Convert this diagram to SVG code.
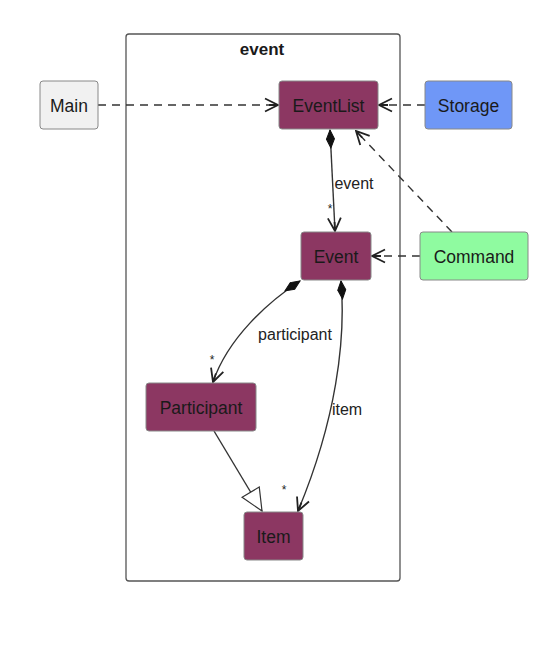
<svg xmlns="http://www.w3.org/2000/svg" width="560" height="656" viewBox="0 0 560 656">
<defs>
<style>
.node rect{stroke:#888;stroke-width:1}
.lbl{font-family:"Liberation Sans",Arial,sans-serif;font-size:17.5px;fill:#1a1a1a;text-anchor:middle;dominant-baseline:central}
.elbl{font-family:"Liberation Sans",Arial,sans-serif;font-size:16px;fill:#222;text-anchor:middle;dominant-baseline:central}
.edge{fill:none;stroke:#333;stroke-width:1.4}
.dash{stroke-dasharray:8 6}
.cls rect{fill:#8c3762}
</style>
<marker id="open" viewBox="0 0 16 16" refX="15" refY="8" markerWidth="16" markerHeight="16" markerUnits="userSpaceOnUse" orient="auto">
<path d="M2,1.5 L15,8 L2,14.5 M15,8 L6,8" fill="none" stroke="#222" stroke-width="1.8"/>
</marker>
<marker id="diamond" viewBox="0 0 20 10" refX="1" refY="5" markerWidth="20" markerHeight="10" markerUnits="userSpaceOnUse" orient="auto">
<path d="M1,5 L10,1 L19,5 L10,9 Z" fill="#111" stroke="#111"/>
</marker>
<marker id="tri" viewBox="0 0 24 24" refX="23" refY="12" markerWidth="24" markerHeight="24" markerUnits="userSpaceOnUse" orient="auto">
<path d="M1,2 L23,12 L1,22 Z" fill="#fff" stroke="#333" stroke-width="1.2"/>
</marker>
</defs>
<rect width="560" height="656" fill="#fff"/>
<g id="package-event">
<rect x="126" y="34" width="274" height="547" rx="3" fill="none" stroke="#555" stroke-width="1.3"/>
<text x="262" y="49" class="lbl" style="font-weight:bold;font-size:17px">event</text>
</g>
<g id="connectors">
<path class="edge dash" d="M98,105 L278,105" marker-end="url(#open)"/>
<path class="edge dash" d="M425,105 L379,105" marker-end="url(#open)"/>
<path class="edge dash" d="M452,232 L356,131" marker-end="url(#open)"/>
<path class="edge dash" d="M420,256 L372,256" marker-end="url(#open)"/>
<path class="edge" d="M330,130 L335,231" marker-start="url(#diamond)" marker-end="url(#open)"/>
<path class="edge" d="M300,281 C268,302 228,338 213,382" marker-start="url(#diamond)" marker-end="url(#open)"/>
<path class="edge" d="M341,281 C346,340 336,420 298,511" marker-start="url(#diamond)" marker-end="url(#open)"/>
<path class="edge" d="M214,431 L262,511" marker-end="url(#tri)"/>
<text x="354" y="183" class="elbl">event</text>
<text x="330" y="209" class="elbl" style="font-size:12px">*</text>
<text x="295" y="334" class="elbl">participant</text>
<text x="212" y="360" class="elbl" style="font-size:12px">*</text>
<text x="347" y="409" class="elbl">item</text>
<text x="284" y="490" class="elbl" style="font-size:12px">*</text>
</g>
<g id="node-main" class="node"><rect x="40" y="81" width="58" height="48" rx="3" fill="#f1f1f1"/><text x="69" y="106" class="lbl">Main</text></g>
<g id="node-eventlist" class="node cls"><rect x="279" y="81" width="99" height="48" rx="3"/><text x="328.5" y="106" class="lbl">EventList</text></g>
<g id="node-storage" class="node"><rect x="425" y="81" width="87" height="48" rx="3" fill="#6f97f7"/><text x="468.5" y="106" class="lbl">Storage</text></g>
<g id="node-event" class="node cls"><rect x="301" y="232" width="70" height="48" rx="3"/><text x="336" y="257" class="lbl">Event</text></g>
<g id="node-command" class="node"><rect x="420" y="232" width="108" height="48" rx="3" fill="#8ffba0"/><text x="474" y="257" class="lbl">Command</text></g>
<g id="node-participant" class="node cls"><rect x="146" y="383" width="110" height="48" rx="3"/><text x="201" y="408" class="lbl">Participant</text></g>
<g id="node-item" class="node cls"><rect x="244" y="512" width="59" height="48" rx="3"/><text x="273.5" y="537" class="lbl">Item</text></g>
</svg>
